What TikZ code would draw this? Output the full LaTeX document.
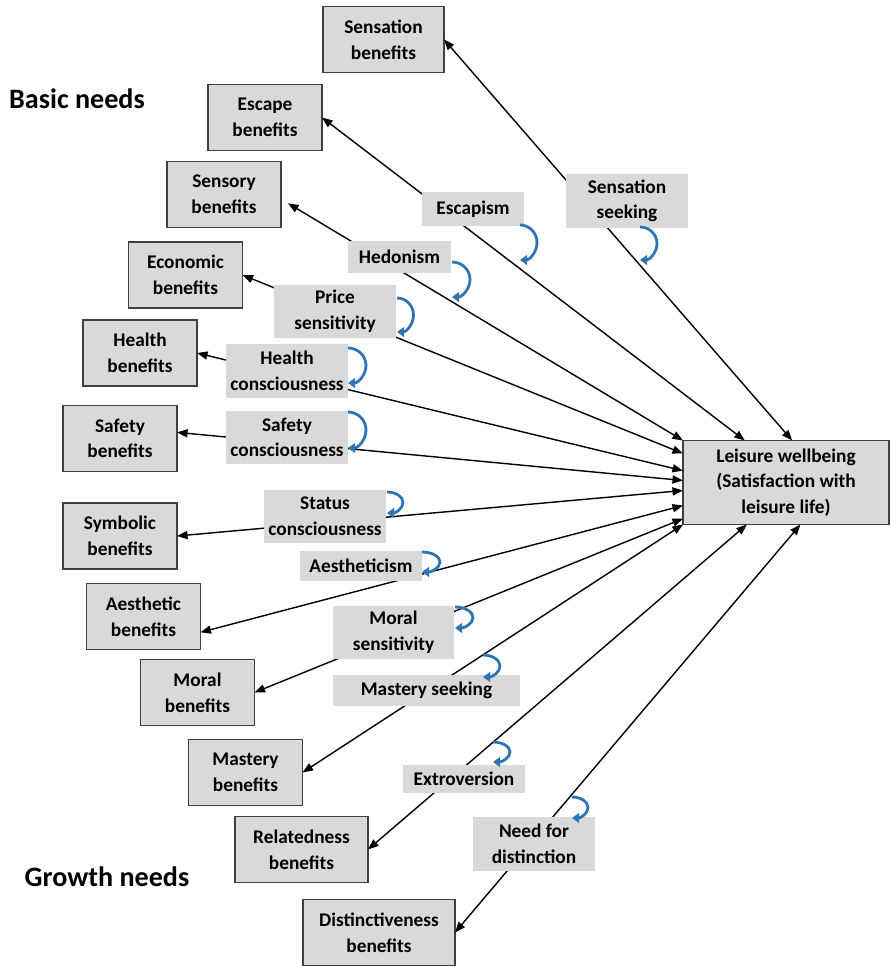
\documentclass[tikz,border=0pt]{standalone}
\usepackage{fontspec}
\setmainfont{Carlito}
\usetikzlibrary{arrows.meta,calc}
\definecolor{boxgray}{HTML}{D9D9D9}
\definecolor{edgegray}{HTML}{404040}
\definecolor{loopblue}{HTML}{2E75B6}
\begin{document}
\begin{tikzpicture}[x=0.02cm, y=-0.02cm, font=\fontsize{11}{14.6}\selectfont\bfseries,
    benefit/.style={draw=edgegray, line width=0.7pt, fill=boxgray, align=center, minimum width=2.28cm, minimum height=1.32cm, inner sep=0pt, outer sep=0pt},
    trait/.style={fill=boxgray, align=center, minimum width=2.44cm, minimum height=1.07cm, inner sep=0pt, outer sep=0pt},
    link/.style={<->, line width=0.8pt, >={Triangle[length=6pt, width=4.6pt]}},
    modloop/.style={draw=loopblue, line width=1.6pt, -{Triangle[length=4pt, width=5.5pt]}}]
    \useasboundingbox (0,0) rectangle (890,966);

    % needs
    \node[font=\fontsize{16}{19}\selectfont\bfseries] (basic) at (77,99) {Basic needs};
    \node[font=\fontsize{16}{19}\selectfont\bfseries] (growth) at (107,877) {Growth needs};

    % benefits
    \node[benefit, minimum width=2.42cm] (sensb) at (383.5,39.5) {Sensation\\benefits};
    \node[benefit] (escb) at (265,117.5) {Escape\\benefits};
    \node[benefit] (sensoryb) at (224,194.5) {Sensory\\benefits};
    \node[benefit] (econb) at (185.5,275) {Economic\\benefits};
    \node[benefit] (healthb) at (140,353) {Health\\benefits};
    \node[benefit] (safeb) at (120,438.5) {Safety\\benefits};
    \node[benefit] (symb) at (120,536) {Symbolic\\benefits};
    \node[benefit] (aesb) at (143.5,616.5) {Aesthetic\\benefits};
    \node[benefit] (moralb) at (197.5,692.5) {Moral\\benefits};
    \node[benefit] (mastb) at (245.5,772.5) {Mastery\\benefits};
    \node[benefit, minimum width=2.66cm] (relb) at (301.5,849.5) {Relatedness\\benefits};
    \node[benefit, minimum width=3.04cm] (distb) at (379,932.5) {Distinctiveness\\benefits};

    % outcome
    \node[benefit, minimum width=4.12cm, minimum height=1.68cm] (lw) at (786,482.5) {Leisure wellbeing\\(Satisfaction with\\leisure life)};

    % links
    \draw[link] (sensb.east) -- ($(lw.north west)!0.53!(lw.north east)$);
    \draw[link] (escb.east) -- ($(lw.north west)!0.30!(lw.north east)$);
    \draw[link] ([xshift=4pt, yshift=-5pt]sensoryb.east) -- (lw.north west);
    \draw[link] (econb.east) -- ($(lw.north west)!0.155!(lw.south west)$);
    \draw[link] (healthb.east) -- ($(lw.north west)!0.36!(lw.south west)$);
    \draw[link] ([yshift=3.5pt]safeb.east) -- ($(lw.north west)!0.476!(lw.south west)$);
    \draw[link] (symb.east) -- ($(lw.north west)!0.595!(lw.south west)$);
    \draw[link] ([yshift=-9pt]aesb.east) -- ($(lw.north west)!0.774!(lw.south west)$);
    \draw[link] (moralb.east) -- ($(lw.north west)!0.93!(lw.south west)$);
    \draw[link] (mastb.east) -- (lw.south west);
    \draw[link] (relb.east) -- ($(lw.south west)!0.31!(lw.south east)$);
    \draw[link] (distb.east) -- ($(lw.south west)!0.57!(lw.south east)$);

    % moderators
    \node[trait] (seek) at (627,201) {Sensation\\seeking};
    \node[trait, minimum width=2.04cm, minimum height=0.68cm] (escp) at (473,209) {Escapism};
    \node[trait, minimum width=2.06cm, minimum height=0.64cm] (hedo) at (399.5,257) {Hedonism};
    \node[trait] (price) at (335,311.5) {Price\\sensitivity};
    \node[trait] (healthc) at (287,371) {Health\\consciousness};
    \node[trait] (safec) at (287,437.5) {Safety\\consciousness};
    \node[trait] (status) at (325,516.5) {Status\\consciousness};
    \node[trait, minimum height=0.6cm] (aesth) at (361,566) {Aestheticism};
    \node[trait] (morals) at (393.5,632.5) {Moral\\sensitivity};
    \node[trait, minimum width=3.74cm, minimum height=0.62cm] (masts) at (426.5,690.5) {Mastery seeking};
    \node[trait, minimum height=0.56cm] (extro) at (464,779) {Extroversion};
    \node[trait] (needd) at (534,844) {Need for\\distinction};

    % moderating loops
    \draw[modloop] (640,227) arc[start angle=90, end angle=-90, x radius=0.34cm, y radius=0.33cm];
    \draw[modloop] (520,225) arc[start angle=90, end angle=-90, x radius=0.34cm, y radius=0.35cm];
    \draw[modloop] (452,262) arc[start angle=90, end angle=-90, x radius=0.36cm, y radius=0.35cm];
    \draw[modloop] (397,298) arc[start angle=90, end angle=-90, x radius=0.33cm, y radius=0.34cm];
    \draw[modloop] (348,348) arc[start angle=90, end angle=-90, x radius=0.36cm, y radius=0.35cm];
    \draw[modloop] (348,412) arc[start angle=90, end angle=-90, x radius=0.36cm, y radius=0.36cm];
    \draw[modloop] (387,492) arc[start angle=90, end angle=-90, x radius=0.32cm, y radius=0.21cm];
    \draw[modloop] (422,552) arc[start angle=90, end angle=-90, x radius=0.36cm, y radius=0.20cm];
    \draw[modloop] (455,607) arc[start angle=90, end angle=-90, x radius=0.36cm, y radius=0.21cm];
    \draw[modloop] (483,655) arc[start angle=90, end angle=-90, x radius=0.34cm, y radius=0.22cm];
    \draw[modloop] (493,742) arc[start angle=90, end angle=-90, x radius=0.34cm, y radius=0.20cm];
    \draw[modloop] (572,797) arc[start angle=90, end angle=-90, x radius=0.32cm, y radius=0.21cm];
\end{tikzpicture}
\end{document}
